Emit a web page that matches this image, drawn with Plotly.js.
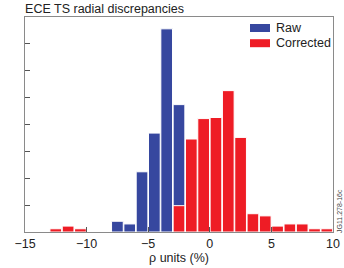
<!DOCTYPE html>
<html><head><meta charset="utf-8">
<script src="https://cdn.plot.ly/plotly-3.0.1.min.js"></script>
<style>html,body{margin:0;padding:0;background:#fff}</style>
</head><body>
<div id="chart" style="width:344px;height:268px"></div>
<script>
// Bin centres (ρ units, %), bin width 1
const rawBins = [-7.5, -6.5, -5.5, -4.5, -3.5, -2.5];
const rawCounts = [2.0, 1.5, 11.2, 18.4, 37.8, 23.7];
const corrBins = [-12.5, -11.5, -10.5, -2.5, -1.5, -0.5, 0.5, 1.5, 2.5, 3.5, 4.5, 5.5, 6.5, 7.5, 8.5, 9.5];
const corrCounts = [0.6, 1.1, 0.6, 4.9, 17.3, 21.1, 21.3, 26.3, 17.6, 3.4, 3.0, 1.1, 1.5, 1.5, 0.6, 0.6];
const xTicks = [-15, -10, -5, 0, 5, 10];
const seriesNames = ['Raw', 'Corrected'];
const seriesColors = ['#36479f', '#ee1c25'];

const line = {color: '#ffffff', width: 1};
const traces = [
  {type: 'bar', name: seriesNames[0], x: rawBins, y: rawCounts, width: 0.95,
   marker: {color: seriesColors[0], line: line}},
  {type: 'bar', name: seriesNames[1], x: corrBins, y: corrCounts, width: 0.95,
   marker: {color: seriesColors[1], line: line}}
];
const axisCommon = {showline: true, mirror: true, linecolor: '#8a8a8a', linewidth: 1,
  ticks: 'inside', ticklen: 5, tickcolor: '#555', showgrid: false, zeroline: false};

// Custom legend (wide rectangular swatches), positioned in paper coordinates
const plotL = 25, plotT = 17, plotW = 344 - 25 - 11, plotH = 268 - 17 - 36;
const px = x => (x - plotL) / plotW;
const py = y => 1 - (y - plotT) / plotH;
const shapes = [], annotations = [];
seriesNames.forEach((n, i) => {
  const yc = 28 + i * 15.2;
  shapes.push({type: 'rect', xref: 'paper', yref: 'paper', x0: px(250), x1: px(270),
    y0: py(yc + 4), y1: py(yc - 4), fillcolor: seriesColors[i], line: {width: 0}});
  annotations.push({text: n, xref: 'paper', yref: 'paper', x: px(274), y: py(yc),
    xanchor: 'left', yanchor: 'middle', showarrow: false, font: {size: 12.5, color: '#222'}});
});
annotations.push({text: 'JG11.278-16c', xref: 'paper', yref: 'paper', x: px(339), y: py(235),
  xanchor: 'center', yanchor: 'bottom', textangle: -90, showarrow: false,
  font: {size: 7, color: '#444'}});

const layout = {
  width: 344, height: 268,
  margin: {l: 25, r: 11, t: 17, b: 36},
  paper_bgcolor: '#fff', plot_bgcolor: '#fff',
  font: {family: 'Liberation Sans, Arial, sans-serif', size: 12, color: '#222'},
  barmode: 'overlay',
  showlegend: false,
  title: {text: 'ECE TS radial discrepancies', x: 0.073, xanchor: 'left', y: 0.968, yanchor: 'middle',
          font: {size: 12.5, color: '#222'}},
  xaxis: Object.assign({}, axisCommon, {range: [-15, 10], tickvals: xTicks,
          title: {text: 'ρ units (%)', standoff: 2, font: {size: 12.5}}, tickfont: {size: 12.5}}),
  yaxis: Object.assign({}, axisCommon, {range: [0, 40], dtick: 5, showticklabels: false}),
  shapes: shapes,
  annotations: annotations
};
Plotly.newPlot('chart', traces, layout, {displayModeBar: false, staticPlot: true});
</script>
</body></html>
